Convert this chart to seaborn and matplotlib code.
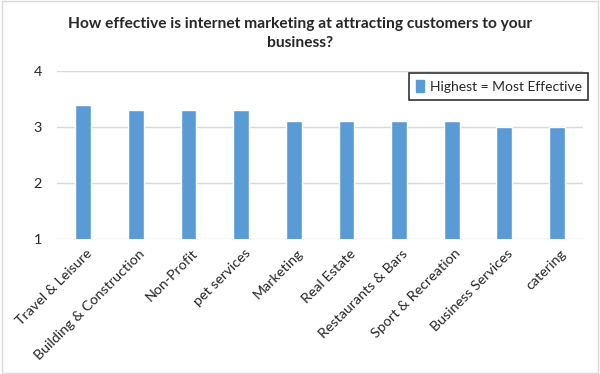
import matplotlib.pyplot as plt
import matplotlib.patches as mpatches
import matplotlib.transforms as mtransforms
import seaborn as sns
import pandas as pd

sns.set_style("white")
plt.rcParams['font.family'] = ['Lato', 'DejaVu Sans']

# survey categories and average ratings
categories = ["Travel & Leisure", "Building & Construction", "Non-Profit", "pet services",
              "Marketing", "Real Estate", "Restaurants & Bars", "Sport & Recreation",
              "Business Services", "catering"]
ratings = [3.4, 3.3, 3.3, 3.3, 3.1, 3.1, 3.1, 3.1, 3.0, 3.0]
series_name = "Highest = Most Effective"

df = pd.DataFrame({"Category": categories, "Rating": ratings})

fig = plt.figure(figsize=(6, 3.74), dpi=100)
ax = fig.add_axes([0.095, 0.361, 0.877, 0.449])

bar_color = "#5B9BD5"
sns.barplot(data=df, x="Category", y="Rating", color=bar_color, width=0.3,
            saturation=1, ax=ax, bottom=0)

ax.set_ylim(1, 4)
ax.set_yticks([1, 2, 3, 4])
ax.yaxis.grid(True, color="#D9D9D9", linewidth=1)
ax.set_axisbelow(True)
for s in ax.spines.values():
    s.set_visible(False)
ax.set_xlabel("")
ax.set_ylabel("")
ax.tick_params(axis="both", length=0, labelsize=10.3, colors="#262626")
ax.tick_params(axis="y", pad=11)
ax.tick_params(axis="x", pad=9)
# nudge rotated labels right a bit so they end near the bar centre
shift = mtransforms.ScaledTranslation(5 / 72, 0, fig.dpi_scale_trans)
for lbl in ax.get_xticklabels():
    lbl.set_rotation(45)
    lbl.set_ha("right")
    lbl.set_va("center")
    lbl.set_rotation_mode("anchor")
    lbl.set_transform(lbl.get_transform() + shift)

fig.text(0.5, 0.955, "How effective is internet marketing at attracting customers to your\nbusiness?",
         ha="center", va="top", fontsize=11.2, fontweight="bold", linespacing=1.45)

handle = mpatches.Patch(color=bar_color, label=series_name)
leg = ax.legend(handles=[handle], loc="upper right", bbox_to_anchor=(1.01, 0.988),
                fontsize=10, frameon=True, fancybox=False, handlelength=0.6,
                handleheight=0.9, handletextpad=0.4, borderpad=0.5, borderaxespad=0)
leg.get_frame().set_edgecolor("black")
leg.get_frame().set_linewidth(1.2)

# outer chart border
fig.patches.append(mpatches.Rectangle((0.003, 0.004), 0.994, 0.992, transform=fig.transFigure,
                                      fill=False, edgecolor="#D9D9D9", linewidth=1))

fig.savefig("out.png", dpi=100)
